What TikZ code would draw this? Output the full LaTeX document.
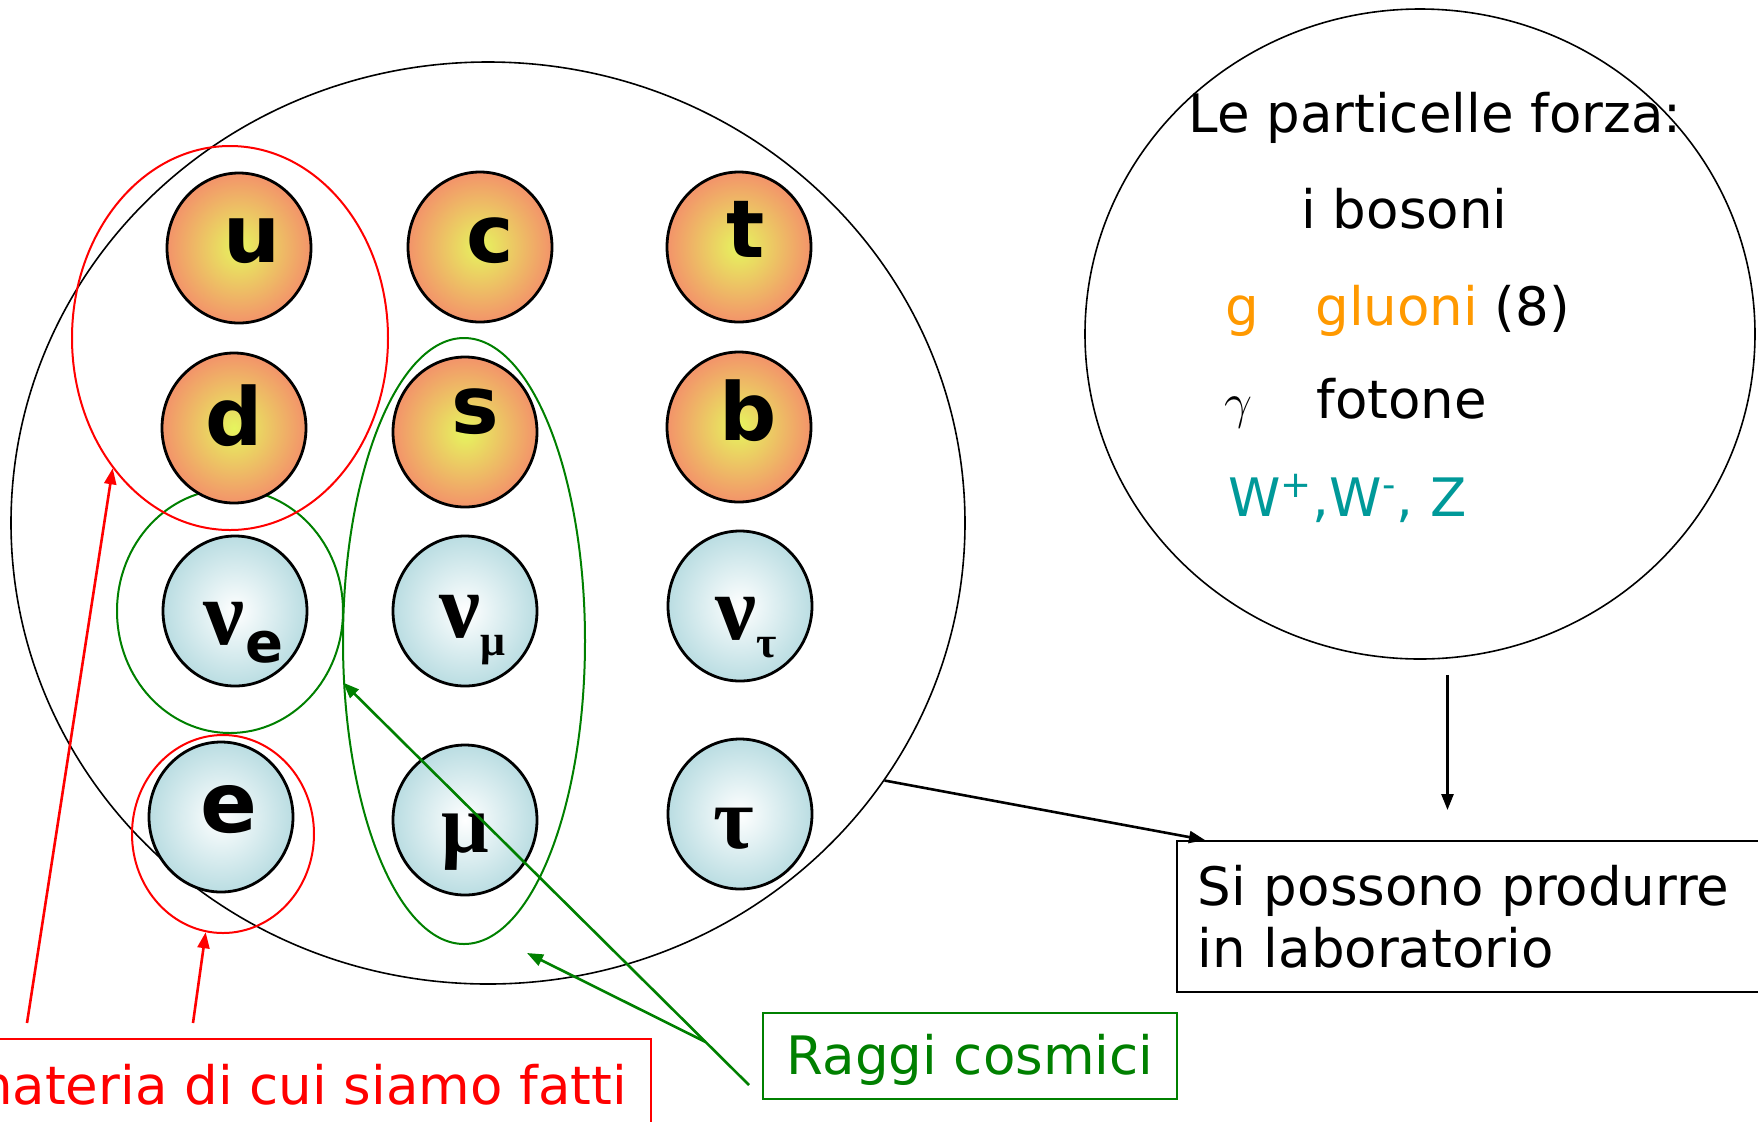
\documentclass[tikz,border=0pt]{standalone}
\usepackage{amsmath}
\usepackage{fontspec}
\setmainfont{DejaVu Sans}
\newfontfamily\grk{Liberation Serif}
\usepackage{tikz}
\usetikzlibrary{arrows.meta,positioning,shapes.geometric,calc}

\definecolor{quarkout}{HTML}{F3936A}
\definecolor{quarkin}{HTML}{E6F55E}
\definecolor{leptonout}{HTML}{BADDE2}
\definecolor{gluecol}{HTML}{FF9900}
\definecolor{weakcol}{HTML}{009999}
\definecolor{cosmic}{HTML}{008000}

\newcommand{\gk}[2]{{\grk\bfseries\fontsize{#1}{#1}\selectfont #2}}
\newcommand{\nusub}[1]{\gk{46}{ν}\raisebox{-9pt}{#1}}

\begin{document}
\begin{tikzpicture}[x=0.5pt,y=-0.5pt,
      myquark/.style={
         ellipse,
         draw=black,
         line width=1.4pt,
         inner sep=0pt,
         minimum width=72pt,
         minimum height=75pt,
         text depth=0pt,
         inner color=quarkin,
         outer color=quarkout,
         font=\fontsize{40}{40}\selectfont\bfseries},
      mylepton/.style={myquark, inner color=white, outer color=leptonout},
      mygroup/.style={ellipse, draw, line width=1pt, inner sep=0pt},
      myarrow/.style={-{Triangle[length=8pt,width=6pt]}, line width=1.3pt},
      mytext/.style={anchor=base west, inner sep=0pt, font=\fontsize{26.5}{31}\selectfont}
      ]
      \useasboundingbox (0,0) rectangle (1758,1121);

      % the families
      \node[ellipse, draw, line width=0.8pt, minimum width=477pt, minimum height=461pt] (big) at (488,523) {};
      \node[mygroup, cosmic, minimum width=113pt, minimum height=122pt] (nueG) at (230,611) {};

      \foreach \n/\x/\y/\w/\h/\txt in {% name/x/y/text shift/text height/text
        u/239/248/13.4pt/14pt/u, c/480/247/10pt/15pt/c, t/739/247/6.8pt/10pt/t,
        d/234/428/0pt/17pt/d, s/465/432/10pt/1.5pt/s, b/739/427/9pt/13.4pt/b}
        \node[myquark, text height=\h] (\n) at (\x,\y) {\hspace*{\w}\txt};

      \foreach \n/\x/\y/\w/\h/\txt in {%
        nue/235/611/8.5pt/33pt/{\nusub{\fontsize{28}{28}\selectfont e}},
        numu/465/611/7.5pt/26pt/{\nusub{\gk{22}{μ}}},
        nutau/740/606/6pt/33pt/{\nusub{\gk{22}{τ}}},
        el/221/817/8pt/15pt/{\fontsize{42}{42}\selectfont e},
        mu/465/820/0pt/32pt/{\gk{42}{μ}},
        tau/740/814/-6pt/34pt/{\gk{44}{τ}}}
        \node[mylepton, text height=\h] (\n) at (\x,\y) {\hspace*{\w}\txt};

      \node[mygroup, red, minimum width=158pt, minimum height=192pt] (ud) at (230,338) {};
      \node[mygroup, red, minimum width=91pt, minimum height=99pt] (eR) at (223,834) {};
      \node[mygroup, cosmic, minimum width=121pt, minimum height=303pt] (smu) at (464,641) {};

      % the forces
      \node[ellipse, draw, line width=0.8pt, minimum width=335pt, minimum height=325pt] (forces) at (1420,334) {};
      \node[mytext] (ftitle) at (1188,132) {Le particelle forza:};
      \node[mytext] (fbos) at (1301,228) {i bosoni};
      \node[mytext, gluecol] (fg) at (1225,325) {g};
      \node[mytext] (fglu) at (1315,325) {\textcolor{gluecol}{gluoni} (8)};
      \node[mytext, font=\fontsize{24}{24}\selectfont] (fgam) at (1224,418) {$\gamma$};
      \node[mytext] (ffot) at (1316,418) {fotone};
      \node[mytext, weakcol] (fw) at (1228,516) {W\textsuperscript{+},W\textsuperscript{-}, Z};

      % the labels
      \node[draw=red, text=red, line width=0.9pt, anchor=north east, inner xsep=12pt, inner ysep=13pt,
            text height=20pt, text depth=6pt, font=\fontsize{26.5}{31}\selectfont] (mat) at (652,1038)
            {materia di cui siamo fatti};
      \node[draw=cosmic, text=cosmic, line width=0.9pt, anchor=north west, inner sep=12pt,
            text height=19pt, text depth=0pt, font=\fontsize{26.5}{31}\selectfont] (rc) at (762,1012)
            {Raggi cosmici};
      \node[draw, line width=0.9pt, anchor=north west, inner xsep=10.5pt, inner ysep=12pt,
            text width=300pt, align=left, font=\fontsize{26.5}{31}\selectfont] (lab) at (1176,840)
            {Si possono produrre\\in laboratorio};

      \coordinate (matA) at (27,1023);
      \coordinate (matB) at (193,1023);
      \coordinate (rcA) at (749,1085);
      \coordinate (rcB) at ($(rcA)!0.107!(smu.199)$);
      \coordinate (rcT) at (527,953);
      \coordinate (fdown) at ([xshift=13.75pt,yshift=-7.5pt]forces.south);
      \coordinate (labtop) at ([yshift=15pt]lab.north);

      \draw[myarrow, red] (matA) -- (ud.228);
      \draw[myarrow, red] (matB) -- (eR.260);
      \draw[myarrow, cosmic] (rcA) -- (smu.199);
      \draw[myarrow, cosmic] (rcB) -- (rcT);
      \draw[myarrow] (big.327) -- ([xshift=14.5pt]lab.north west);
      \draw[myarrow] (fdown) -- (fdown |- labtop);
\end{tikzpicture}
\end{document}
